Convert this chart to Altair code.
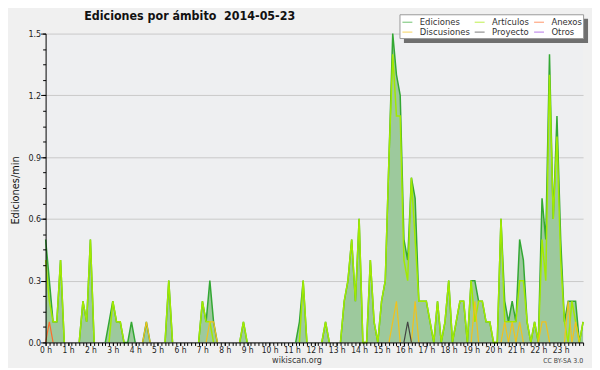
import altair as alt
import pandas as pd

# 10-minute slots of 2014-05-23 (slot 0 = 00:00, slot 144 = 24:00)
slots = list(range(145))

ediciones = [
    0.5, 0.3, 0.1, 0.1, 0.4, 0, 0, 0, 0, 0, 0.2, 0.1,
    0.5, 0, 0, 0, 0, 0.1, 0.2, 0.1, 0.1, 0, 0, 0.1,
    0, 0, 0, 0.1, 0, 0, 0, 0, 0, 0.3, 0, 0,
    0, 0, 0, 0, 0, 0, 0.2, 0.1, 0.3, 0.1, 0, 0,
    0, 0, 0, 0, 0, 0.1, 0, 0, 0, 0, 0, 0,
    0, 0, 0, 0, 0, 0, 0, 0, 0.1, 0.3, 0, 0,
    0, 0, 0, 0.1, 0, 0, 0, 0, 0.2, 0.3, 0.5, 0.2,
    0.6, 0, 0, 0.4, 0.1, 0, 0.2, 0.3, 0.9, 1.5, 1.3, 1.2,
    0.5, 0.4, 0.8, 0.7, 0.2, 0.2, 0.2, 0.1, 0, 0.2, 0, 0.1,
    0.3, 0, 0.1, 0.2, 0.2, 0, 0.3, 0.3, 0.2, 0.2, 0.1, 0.1,
    0, 0, 0.6, 0.2, 0.1, 0.2, 0.1, 0.5, 0.4, 0.1, 0, 0.1,
    0, 0.7, 0.5, 1.4, 0.6, 1.1, 0.5, 0.1, 0.2, 0.2, 0.2, 0,
    0.1,
]
articulos = [
    0.4, 0.2, 0.1, 0.1, 0.4, 0, 0, 0, 0, 0, 0.2, 0.1,
    0.5, 0, 0, 0, 0, 0, 0.2, 0.1, 0.1, 0, 0, 0,
    0, 0, 0, 0, 0, 0, 0, 0, 0, 0.3, 0, 0,
    0, 0, 0, 0, 0, 0, 0.2, 0.1, 0.1, 0, 0, 0,
    0, 0, 0, 0, 0, 0.1, 0, 0, 0, 0, 0, 0,
    0, 0, 0, 0, 0, 0, 0, 0, 0, 0.3, 0, 0,
    0, 0, 0, 0.1, 0, 0, 0, 0, 0.2, 0.3, 0.5, 0.2,
    0.6, 0, 0, 0.4, 0.1, 0, 0.2, 0.3, 0.9, 1.4, 1.1, 1.1,
    0.4, 0.3, 0.8, 0.5, 0.2, 0.2, 0.2, 0.1, 0, 0.2, 0, 0.1,
    0.3, 0, 0.1, 0.2, 0.2, 0, 0.3, 0.1, 0.2, 0.2, 0.1, 0.1,
    0, 0, 0.6, 0.1, 0.1, 0.1, 0.1, 0.3, 0.3, 0.1, 0, 0.1,
    0, 0.5, 0.3, 1.3, 0.6, 1.0, 0.4, 0.1, 0, 0.2, 0.1, 0,
    0.1,
]
discusiones = [
    0, 0, 0, 0, 0, 0, 0, 0, 0, 0, 0, 0,
    0, 0, 0, 0, 0, 0, 0, 0, 0, 0, 0, 0,
    0, 0, 0, 0.1, 0, 0, 0, 0, 0, 0, 0, 0,
    0, 0, 0, 0, 0, 0, 0, 0, 0.1, 0.1, 0, 0,
    0, 0, 0, 0, 0, 0, 0, 0, 0, 0, 0, 0,
    0, 0, 0, 0, 0, 0, 0, 0, 0, 0, 0, 0,
    0, 0, 0, 0, 0, 0, 0, 0, 0, 0, 0, 0,
    0, 0, 0, 0, 0, 0, 0, 0, 0, 0.1, 0.2, 0,
    0, 0, 0, 0.2, 0, 0, 0, 0, 0, 0, 0, 0,
    0, 0, 0, 0, 0, 0, 0, 0.2, 0, 0, 0, 0,
    0, 0, 0, 0.1, 0, 0.1, 0, 0.1, 0, 0, 0, 0,
    0, 0.1, 0.1, 0, 0, 0, 0, 0, 0.2, 0, 0.1, 0,
    0,
]
anexos = [0.0] * 145
anexos[1] = 0.1
proyecto = [0.0] * 145
proyecto[97] = 0.1
otros = [0.0] * 145

hour_ticks = list(range(24))
y_major = [0.0, 0.3, 0.6, 0.9, 1.2, 1.5]
y_minor = [round(k * 0.075, 3) for k in range(21)]
x_minor = [s / 6 for s in slots]

names = ["Ediciones", "Artículos", "Anexos", "Discusiones", "Proyecto", "Otros"]
colors = ["#33a833", "#a2ea00", "#ff6a2a", "#f2c21b", "#444444", "#9a40e0"]
series = {
    "Ediciones": ediciones, "Artículos": articulos, "Discusiones": discusiones,
    "Anexos": anexos, "Proyecto": proyecto, "Otros": otros,
}

FONT = "DejaVu Sans Condensed, DejaVu Sans"
FILL = "#9dc99d"

# long table, split into segments so the zero runs are not drawn
rows = []
n = len(slots)
for name, vals in series.items():
    seg = 0
    prev = False
    for i in slots:
        keep = vals[i] > 0 or (i > 0 and vals[i - 1] > 0) or (i < n - 1 and vals[i + 1] > 0)
        if keep:
            if not prev:
                seg += 1
            rows.append({"t": i / 6, "v": vals[i], "serie": name, "seg": f"{name}-{seg}"})
        prev = keep
lines_df = pd.DataFrame(rows)
area_df = pd.DataFrame({"t": [s / 6 for s in slots], "v": ediciones})

xs = alt.Scale(domain=[0, 24], nice=False, zero=False)
ys = alt.Scale(domain=[0, 1.5], nice=False)

color_scale = alt.Scale(domain=names, range=colors)
legend = alt.Legend(
    orient="none", legendX=358, legendY=-19, columns=3, title=None,
    symbolType="stroke", symbolSize=100, symbolStrokeWidth=1, symbolOpacity=0.7,
    labelFont=FONT, labelFontSize=9.5, labelColor="#333333", padding=2,
    rowPadding=0, columnPadding=2, labelOffset=7, direction="horizontal",
)

x_main = alt.X("t:Q", scale=xs, title=None, axis=alt.Axis(
    orient="bottom", values=hour_ticks, labelExpr="datum.value + ' h'",
    tickSize=3, labelPadding=0, labelFontSize=8.5, labelFont=FONT, labelColor="#222222",
    domainColor="#000000", tickColor="#000000", grid=False, labelFlush=False,
    labelOverlap=False, zindex=1))
y_main = alt.Y("v:Q", scale=ys, title="Ediciones/min", axis=alt.Axis(
    orient="left", values=y_major, format=".1f", tickSize=5, labelPadding=0,
    grid=False, domainColor="#000000", tickColor="#000000",
    labelFontSize=9, labelFont=FONT, labelColor="#222222", labelFlush=False,
    titleFont=FONT, titleFontSize=11, titleFontWeight="normal", titleColor="#111111",
    titleX=-25, titleY=158, titleBaseline="bottom", zindex=1))

x_minor_enc = alt.X("t:Q", scale=xs, title=None, axis=alt.Axis(
    orient="bottom", values=x_minor, labels=False, domain=False, tickSize=3,
    tickColor="#000000", grid=False, zindex=1))
y_minor_enc = alt.Y("v:Q", scale=ys, title=None, axis=alt.Axis(
    orient="left", values=y_minor, labels=False, domain=False, tickSize=3,
    tickColor="#000000", grid=False, zindex=1))
y_grid_enc = alt.Y("v:Q", scale=ys, title=None, axis=alt.Axis(
    orient="left", values=y_major, labels=False, domain=False, ticks=False,
    grid=True, gridColor="#c9c9c9", gridWidth=1, zindex=0))

x_none = alt.X("t:Q", scale=xs, axis=None)
y_none = alt.Y("v:Q", scale=ys, axis=None)

area = alt.Chart(area_df).mark_area(color=FILL, opacity=1).encode(x=x_main, y=y_main)

def line_layer(name, width, xenc, yenc):
    return alt.Chart(lines_df).transform_filter(alt.datum.serie == name).mark_line(
        strokeWidth=width).encode(
        x=xenc, y=yenc,
        color=alt.Color("serie:N", scale=color_scale, legend=legend, sort=names),
        detail="seg:N",
    )

l_ed = line_layer("Ediciones", 1.5, x_minor_enc, y_minor_enc)
l_art = line_layer("Artículos", 1.5, x_none, y_grid_enc)
l_dis = line_layer("Discusiones", 1.2, x_none, y_none)
l_anx = line_layer("Anexos", 1.2, x_none, y_none)
l_pro = line_layer("Proyecto", 1.2, x_none, y_none)

one = alt.Data(values=[{"k": 1}])
# legend frame: drop shadow, then white box with thin border
shadow = alt.Chart(one).mark_rect(color="#6f6f6f").encode(
    x=alt.value(362), x2=alt.value(548), y=alt.value(-15), y2=alt.value(9.5))
box = alt.Chart(one).mark_rect(color="#ffffff", stroke="#9a9a9a", strokeWidth=1).encode(
    x=alt.value(358), x2=alt.value(543.5), y=alt.value(-19), y2=alt.value(5))
title = alt.Chart(one).mark_text(
    font=FONT, fontSize=12.5, fontWeight="bold", color="#111111", align="left",
    baseline="alphabetic").encode(
    x=alt.value(39), y=alt.value(-13.5), text=alt.value("Ediciones por ámbito \u00a02014-05-23"))
footer = alt.Chart(one).mark_text(
    font=FONT, fontSize=9, color="#333333", align="center", baseline="alphabetic").encode(
    x=alt.value(254), y=alt.value(332.5), text=alt.value("wikiscan.org"))
license_ = alt.Chart(one).mark_text(
    font=FONT, fontSize=7, color="#444444", align="right", baseline="alphabetic").encode(
    x=alt.value(543), y=alt.value(332.5), text=alt.value("CC BY-SA 3.0"))

chart = alt.layer(
    area, l_ed, l_art, l_dis, l_anx, l_pro, shadow, box, title, footer, license_
).resolve_axis(x="independent", y="independent").properties(
    width=543, height=312,
    autosize=alt.AutoSizeParams(type="none"),
    padding={"left": 38, "top": 24, "right": 9, "bottom": 24},
    background="#f0f0f0",
).configure_view(fill="#eeeff1", stroke=None)

chart.save("out.html", embed_options={"renderer": "svg", "actions": False})
